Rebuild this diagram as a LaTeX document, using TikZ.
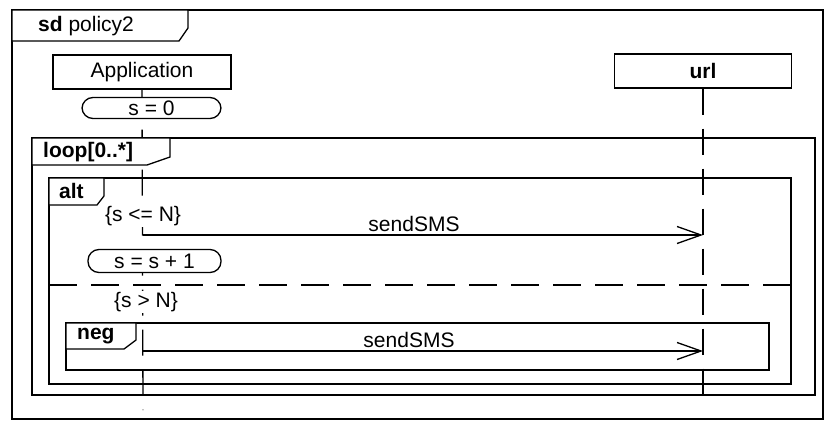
\documentclass[tikz,border=0pt]{standalone}
\usepackage{fontspec}
\setmainfont{Liberation Sans}
\usepackage{tikz}
\usetikzlibrary{arrows.meta, positioning, backgrounds}
\tikzset{
  basefont/.style={font=\fontsize{21}{25}\selectfont},
  boldfont/.style={font=\fontsize{21}{25}\selectfont\bfseries},
  lifebox/.style={rectangle, draw, line width=1.3pt, fill=white, basefont, minimum height=34pt, inner sep=0pt},
  statebox/.style={rectangle, draw, line width=1.3pt, fill=white, basefont, rounded corners=11pt, inner sep=0pt},
  guard/.style={fill=white, basefont, inner sep=1pt},
  tagtext/.style={boldfont, anchor=west, inner sep=0pt},
  frame/.style={draw, line width=1.3pt},
  tab/.style={draw, line width=1.3pt, fill=white},
  lifeline/.style={line width=1.3pt, dash pattern=on 26pt off 14pt},
  msg/.style={-{Straight Barb[length=24pt, width=17pt, line width=1.3pt]}, line width=1.3pt},
  msglabel/.style={basefont, above, inner sep=3pt},
  separator/.style={line width=1.3pt, dash pattern=on 28pt off 14pt}
}
\begin{document}
\begin{tikzpicture}[x=1pt, y=-1pt]
  \useasboundingbox (0,0) rectangle (825,421);

  % outer sd frame
  \draw[frame] (12,10) rectangle (823,419);
  \draw[tab] (12,10) -- (188,10) -- (188,28) -- (179,41) -- (12,41) -- cycle;
  \node[basefont, anchor=west, inner sep=0pt] (sdtag) at (38,26) {\textbf{sd} policy2};

  % lifelines
  \node[lifebox, minimum width=178pt] (app) at (142,72) {Application};
  \node[lifebox, minimum width=177pt, boldfont] (url) at (703,71) {url};
  \coordinate (append) at (143,410);
  \coordinate (urlend) at (703,402);

  \node[statebox, minimum width=139pt, minimum height=21pt] (szero) at (151.5,108) {s = 0};

  % loop fragment
  \draw[frame] (32,138) rectangle (815,395);
  \draw[tab] (32,138) -- (170,138) -- (170,157) -- (147,165) -- (32,165) -- cycle;
  \node[tagtext] (looptag) at (43,152) {loop[0..*]};

  % alt fragment
  \draw[frame] (49,178) rectangle (791,384);
  \draw[tab] (49,178) -- (104,178) -- (104,196) -- (97,205) -- (49,205) -- cycle;
  \node[tagtext] (alttag) at (59,191) {alt};
  \coordinate (sepl) at (49,285);
  \coordinate (sepr) at (791,285);
  \draw[separator] (sepl) -- (sepr);

  \node[guard] (gle) at (143,216) {\{s <= N\}};
  \coordinate (m1s) at (143,235);
  \coordinate (m1e) at (703,235);
  \draw[msg] (m1s) -- node[msglabel, xshift=-9pt] (m1lab) {sendSMS} (m1e);

  \node[statebox, minimum width=133pt, minimum height=23pt] (sinc) at (154.5,261) {s = s + 1};

  \node[guard] (ggt) at (146,302) {\{s > N\}};

  % neg fragment
  \draw[frame] (66,323) rectangle (769,370);
  \draw[tab] (66,323) -- (136,323) -- (136,340) -- (124,349) -- (66,349) -- cycle;
  \node[tagtext] (negtag) at (77,336) {neg};
  \coordinate (m2s) at (143,351);
  \coordinate (m2e) at (703,351);
  \draw[msg] (m2s) -- node[msglabel, xshift=-14pt] (m2lab) {sendSMS} (m2e);

  \begin{scope}[on background layer]
    \draw[lifeline] (app.south) -- (append);
    \draw[lifeline] (url.south) -- (urlend);
  \end{scope}
\end{tikzpicture}
\end{document}
